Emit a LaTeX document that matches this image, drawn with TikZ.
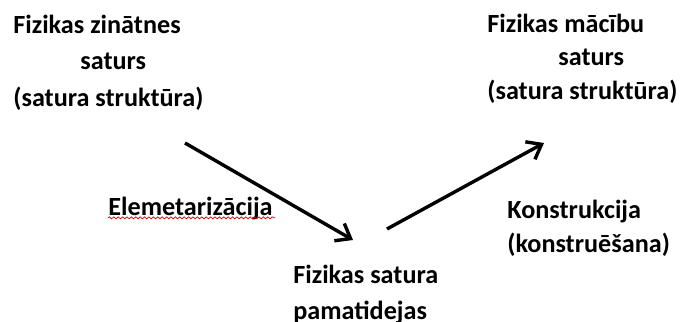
\documentclass[tikz,border=0pt]{standalone}
\usepackage{fontspec}
\setmainfont{Carlito}
\usetikzlibrary{arrows.meta,decorations.pathmorphing}
\tikzset{
  term/.style={font=\fontsize{13.1}{17}\selectfont\bfseries, inner sep=0pt,
               align=left, anchor=base west},
  wide/.style={font=\fontsize{13.1}{18.25}\selectfont\bfseries},
  flow/.style={-{Straight Barb[length=6.5pt,width=10pt]}, line width=1.7pt},
  spellmark/.style={draw=red!85!black, line width=0.35pt, decorate,
                    decoration={snake,amplitude=0.5pt,segment length=2.2pt}}
}
\begin{document}
\begin{tikzpicture}[x=0.5pt,y=-0.5pt]
  \useasboundingbox (0,0) rectangle (682,322);
  % the two contents and the core ideas between them (anchored at last line)
  \node[term,wide] (zin) at (13,106)
    {Fizikas zinātnes\\\hspace*{33.5pt}saturs\\(satura struktūra)};
  \node[term,font=\fontsize{13.1}{16.75}\selectfont\bfseries] (mac) at (487,99)
    {Fizikas mācību\\\hspace*{35.5pt}saturs\\(satura struktūra)};
  \node[term,wide] (pam) at (293,319.5) {Fizikas satura\\pamatidejas};
  % process names
  \node[term] (elem) at (108,215) {Elemetarizācija};
  \node[term] (kon) at (507,252) {Konstrukcija\\(konstruēšana)};
  \draw[spellmark] (elem.south west) ++(0,-2) -- ++(167,0);
  % arrow ends
  \coordinate (el-a) at (185,143);
  \coordinate (el-b) at (353,240);
  \coordinate (ko-a) at (387,229);
  \coordinate (ko-b) at (544,143);
  \draw[flow] (el-a) -- (el-b);
  \draw[flow] (ko-a) -- (ko-b);
\end{tikzpicture}
\end{document}
